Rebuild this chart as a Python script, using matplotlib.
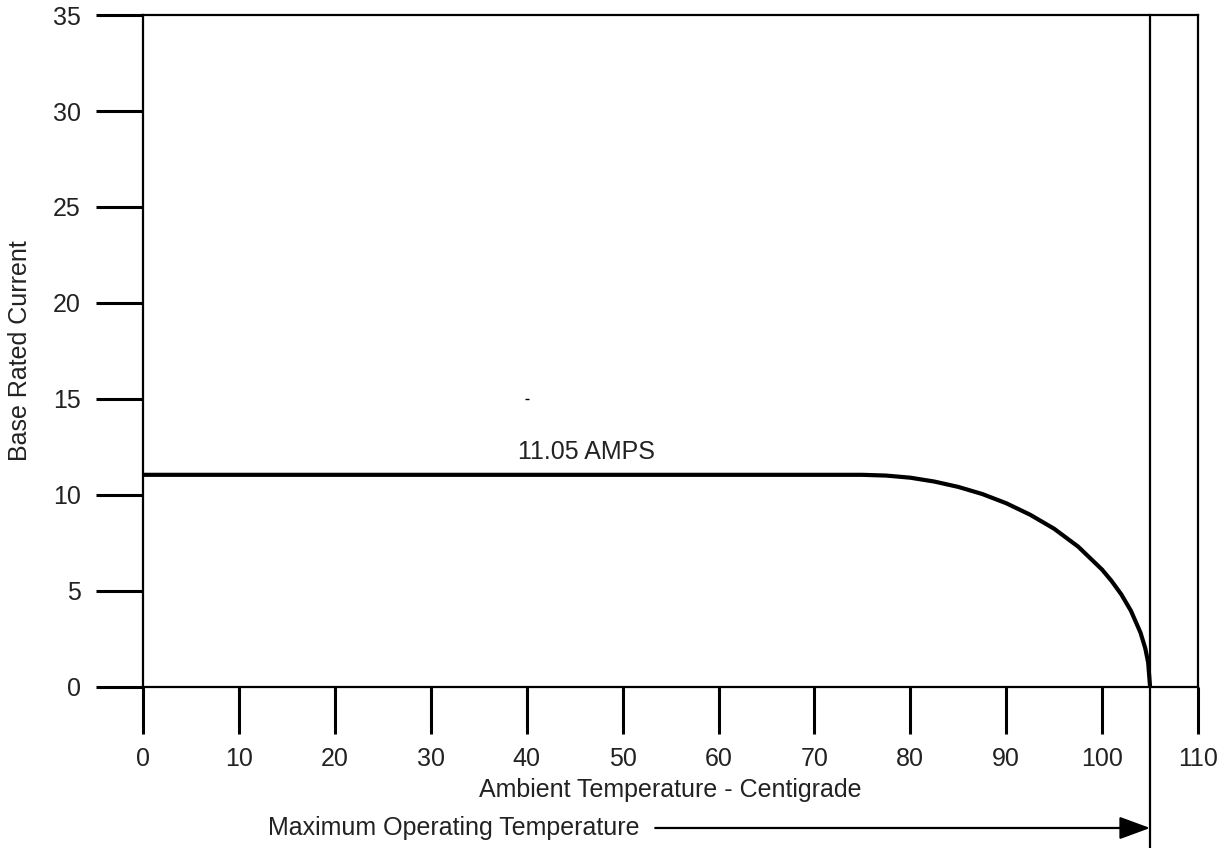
import numpy as np
import matplotlib
matplotlib.use("Agg")
import matplotlib.pyplot as plt
from matplotlib import transforms

plt.rcParams["font.family"] = ["Liberation Sans", "DejaVu Sans"]

# derating curve (temperature in C, current in A)
TEMP = [0, 75, 77.5, 80, 82.5, 85, 87.5, 90, 92.5, 95, 97.5, 100,
        101, 102, 103, 104, 104.5, 104.8, 105]
CURRENT = [11.05, 11.05, 11.01, 10.90, 10.70, 10.42, 10.05, 9.57, 8.97, 8.24,
           7.31, 6.11, 5.51, 4.82, 3.97, 2.83, 2.01, 1.27, 0.0]

X_TICKS = [0, 10, 20, 30, 40, 50, 60, 70, 80, 90, 100, 110]
Y_TICKS = [0, 5, 10, 15, 20, 25, 30, 35]
MAX_TEMP = 105
RATED = 11.05
LABEL_POS = (40, 15)  # stray mark in the source drawing

FS = 18
TXT = "#222222"

fig = plt.figure(figsize=(12.28, 8.48), dpi=100)
ax = fig.add_axes([0.1165, 0.1899, 0.8591, 0.7924])

ax.plot(TEMP, CURRENT, color="black", linewidth=3, solid_capstyle="butt")

ax.set_xlim(0, 110)
ax.set_ylim(0, 35)
ax.set_xticks(X_TICKS)
ax.set_yticks(Y_TICKS)
ax.tick_params(direction="out", length=34, width=2.2, labelsize=FS,
               labelcolor=TXT)
ax.tick_params(axis="x", pad=9)
ax.tick_params(axis="y", pad=11)
for s in ax.spines.values():
    s.set_linewidth(1.6)

ax.set_xlabel("Ambient Temperature - Centigrade", fontsize=FS, color=TXT)
ax.set_ylabel("Base Rated Current", fontsize=FS, color=TXT)
ax.xaxis.set_label_coords(0.5, -0.135)
ax.yaxis.set_label_coords(-0.105, 0.5)

ax.text(46.2, RATED + 0.55, f"{RATED:.2f} AMPS", fontsize=FS, color=TXT,
        ha="center", va="bottom")
ax.plot([LABEL_POS[0]], [LABEL_POS[1]], marker="_", color="black",
        markersize=3, markeredgewidth=1)

# max operating temperature line runs off the bottom of the figure
ax.axvline(MAX_TEMP, ymin=-0.25, ymax=1, color="black", linewidth=1.6, clip_on=False)

trans = transforms.blended_transform_factory(ax.transData, fig.transFigure)
ax.annotate("", xy=(MAX_TEMP, 0.0236), xytext=(53.4, 0.0236),
            xycoords=trans, textcoords=trans, annotation_clip=False,
            arrowprops=dict(arrowstyle="-|>,head_length=1.9,head_width=0.7",
                            color="black", linewidth=1.6, shrinkA=0, shrinkB=0))
ax.text(51.8, 0.0236, "Maximum Operating Temperature", transform=trans,
        fontsize=FS, color=TXT, ha="right", va="center")

fig.savefig("out.png", dpi=100)
